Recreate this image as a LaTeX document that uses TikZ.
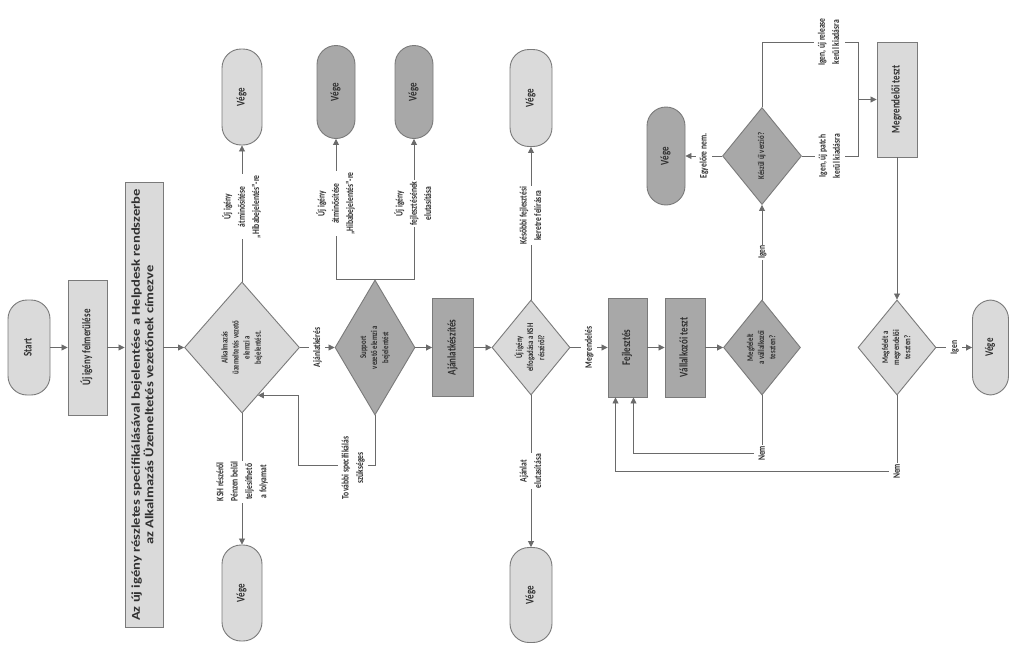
\documentclass[tikz,border=0pt]{standalone}
\usepackage{fontspec}
\setmainfont{Carlito}
\usepackage{graphicx}
\usetikzlibrary{shapes.geometric,arrows.meta,calc}
\definecolor{lightf}{HTML}{DADADA}
\definecolor{darkf}{HTML}{A8A8A8}
\definecolor{bord}{HTML}{7A7A7A}
\definecolor{linec}{HTML}{6A6A6A}
\definecolor{txt}{HTML}{303030}
\newcommand{\rt}[1]{\scalebox{1.3}[1]{\rotatebox{90}{\begin{tabular}{@{}c@{}}#1\end{tabular}}}}
\newcommand{\rtbig}[1]{\scalebox{1.25}[1.52]{\rotatebox{90}{\begin{tabular}{@{}c@{}}#1\end{tabular}}}}
\begin{document}
\begin{tikzpicture}[x=1pt,y=1pt,
 base/.style={draw=bord, line width=0.9pt, inner sep=0pt, text=txt, font=\fontsize{9}{10}\bfseries},
 term/.style={base, fill=lightf, rectangle, rounded corners=19pt, minimum width=40pt, minimum height=96pt},
 termd/.style={term, fill=darkf},
 procbox/.style={base, fill=lightf, rectangle, minimum width=40pt, minimum height=98pt},
 procd/.style={procbox, fill=darkf},
 dec/.style={base, fill=lightf, diamond, font=\fontsize{6.8}{8.5}\bfseries},
 decd/.style={dec, fill=darkf},
 lbl/.style={fill=white, inner sep=1pt, text=txt, font=\fontsize{7.6}{11}\bfseries},
 arr/.style={draw=linec, line width=0.8pt, -{Triangle[length=6pt,width=6pt]}},
 ln/.style={draw=linec, line width=0.8pt}]
\useasboundingbox[fill=white] (0,0) rectangle (1010,-648);

% nodes
\node[term, minimum width=42pt, minimum height=95pt] (start) at (29,-347.5) {\rt{Start}};
\node[procbox, minimum width=39pt, minimum height=135pt] (felm) at (87.5,-347.5) {\rt{Új igény felmerülése}};
\node[procbox, minimum width=38pt, minimum height=445pt, font=\fontsize{9.6}{10.5}\bfseries] (spec) at (144,-405) {\rtbig{Az új igény részletes specifikálásával bejelentése a Helpdesk rendszerbe\\az Alkalmazás Üzemeltetés vezetőnek címezve}};
\node[dec, minimum width=115pt, minimum height=131pt, shape aspect=0.85] (d1) at (242,-347.5) {\rt{Alkalmazás\\üzemeltetés vezető\\elemzi a\\bejelentést.}};
\node[term] (v1) at (242,-97) {\rt{Vége}};
\node[term] (v2) at (242,-593) {\rt{Vége}};
\node[decd, minimum width=80pt, minimum height=135pt, shape aspect=0.6] (d2) at (375,-347.5) {\rt{Support\\vezető elemzi a\\bejelentést}};
\node[termd, minimum width=38pt, minimum height=93pt] (v3) at (336,-92) {\rt{Vége}};
\node[termd, minimum width=38pt, minimum height=93pt] (v4) at (414,-92) {\rt{Vége}};
\node[procd, minimum width=41pt] (ajk) at (453,-347.5) {\rt{Ajánlatkészítés}};
\node[dec, minimum width=78pt, minimum height=95pt, shape aspect=0.8] (d3) at (531,-347.5) {\rt{Új igény\\elfogadása a KSH\\részéről?}};
\node[term, minimum width=42pt, minimum height=97pt] (v5) at (531,-98) {\rt{Vége}};
\node[term, minimum width=42pt, minimum height=95pt] (v6) at (531,-595) {\rt{Vége}};
\node[procd, minimum width=39pt, minimum height=99pt] (fejl) at (627.5,-347.5) {\rt{Fejlesztés}};
\node[procd, minimum width=40pt, minimum height=99pt] (vt) at (685,-347.5) {\rt{Vállalkozói teszt}};
\node[decd, minimum width=77pt, minimum height=95pt, shape aspect=0.8] (d4) at (762,-347.5) {\rt{Megfelelt\\a vállalkozói\\teszten?}};
\node[decd, minimum width=79pt, minimum height=97pt, shape aspect=0.8] (d5) at (762,-156) {\rt{Készül új verzió?}};
\node[termd, minimum width=38pt, minimum height=98pt] (v7) at (666,-156) {\rt{Vége}};
\node[procbox, minimum width=40pt, minimum height=115pt] (mt) at (897,-99.5) {\rt{Megrendelői teszt}};
\node[dec, minimum width=78pt, minimum height=95pt, shape aspect=0.8] (d6) at (897,-347.5) {\rt{Megfelelt a\\megrendelői\\teszten?}};
\node[term, minimum width=36pt, minimum height=95pt] (v8) at (990.5,-347.5) {\rt{Vége}};

% helper coordinates
\coordinate (d1in) at ($(d1.east)!0.725!(d1.south)$);
\coordinate (jn) at (858,-99.5);
\coordinate (jt) at (858,-42);
\coordinate (jb) at (858,-156);

% connectors
\draw[arr] (start) -- (felm);
\draw[arr] (felm) -- (felm -| spec.west);
\draw[arr] (spec.east |- d1) -- (d1);
\draw[arr] (d1) -- node[lbl, pos=0.55]{\rt{Új igény\\átminősítése\\„Hibabejelentés”-re}} (v1);
\draw[arr] (d1) -- node[lbl, pos=0.52]{\rt{KSH részéről\\Pénzen belül\\teljesíthető\\a folyamat}} (v2);
\draw[arr] (d1) -- node[lbl]{\rt{Ajánlatkérés}} (d2);
\draw[arr] (d2.north) -| node[lbl, pos=0.77]{\rt{Új igény\\átminősítése\\„Hibabejelentés”-re}} (v3);
\draw[arr] (d2.north) -| node[lbl, pos=0.77]{\rt{Új igény\\fejlesztésének\\elutasítása}} (v4);
\draw[arr] (d2.south) -- ++(0,-50) coordinate (lc) -| ($(d1in)+(40,0)$) -- (d1in);
\node[lbl] (lt) at (353,-468) {\rt{További specifikálás\\szükséges}};
\draw[arr] (d2) -- (ajk);
\draw[arr] (ajk) -- (d3);
\draw[arr] (d3) -- node[lbl, pos=0.55]{\rt{Későbbi fejlesztési\\keretre felírásra}} (v5);
\draw[arr] (d3) -- node[lbl, pos=0.5]{\rt{Ajánlat\\elutasítása}} (v6);
\draw[arr] (d3) -- node[lbl]{\rt{Megrendelés}} (fejl);
\draw[arr] (fejl) -- (vt);
\draw[arr] (vt) -- (d4);
\draw[arr] (d4) -- node[lbl]{\rt{Igen}} (d5);
\draw[arr] (d4.south) -- ++(0,-58) node[lbl]{\rt{Nem}} -| ([xshift=6pt]fejl.south);
\draw[arr] (d5) -- node[lbl]{\rt{Egyelőre nem.}} (v7);
\draw[ln] (d5.north) |- node[lbl, pos=0.85]{\rt{Igen, új release\\kerül kiadásra}} (jt) -- (jb) -- node[lbl]{\rt{Igen, új patch\\kerül kiadásra}} (d5.east);
\draw[arr] (jn) -- (mt);
\draw[arr] (mt) -- (d6);
\draw[arr] (d6) -- node[lbl]{\rt{Igen}} (v8);
\draw[arr] (d6.south) -- ++(0,-76) node[lbl]{\rt{Nem}} -| ([xshift=-12pt]fejl.south);
\end{tikzpicture}
\end{document}
